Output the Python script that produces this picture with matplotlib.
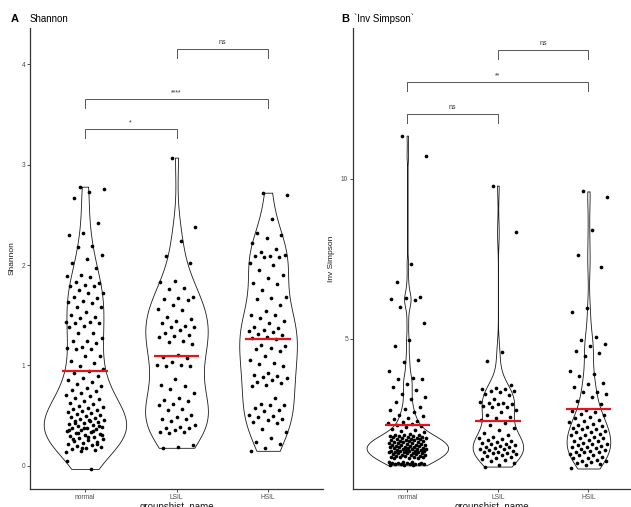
import numpy as np
import matplotlib
matplotlib.use("Agg")
import matplotlib.pyplot as plt

plt.rcParams['font.family'] = ['Liberation Sans', 'DejaVu Sans']

groups = ['normal', 'LSIL', 'HSIL']

# ---------------- Shannon ----------------
shannon_normal = [
    2.78, 2.76, 2.73, 2.67, 2.42, 2.32, 2.30, 2.19, 2.18, 2.10, 2.06, 2.02, 1.97, 1.90, 1.89,
    1.88, 1.83, 1.82, 1.80, 1.79, 1.79, 1.75, 1.72, 1.72, 1.68, 1.67, 1.64, 1.63, 1.62, 1.58,
    1.58, 1.53, 1.50, 1.48, 1.47, 1.43, 1.43, 1.42, 1.42, 1.39, 1.38, 1.32, 1.32, 1.27, 1.24,
    1.24, 1.22, 1.18, 1.17, 1.16, 1.16, 1.09, 1.09, 1.04, 1.02, 0.99, 0.96,
    0.94, 0.92, 0.90, 0.88, 0.86, 0.84, 0.82, 0.80,
    0.78, 0.76, 0.75, 0.73, 0.71, 0.70, 0.68, 0.67, 0.65, 0.63, 0.62, 0.60,
    0.59, 0.58, 0.57, 0.56, 0.55, 0.54, 0.53, 0.52, 0.51, 0.50,
    0.49, 0.48, 0.47, 0.46, 0.46, 0.45, 0.44, 0.43, 0.42, 0.41,
    0.40, 0.39, 0.38, 0.38, 0.37, 0.36, 0.35, 0.34, 0.33, 0.32,
    0.31, 0.30, 0.29, 0.28, 0.27, 0.26, 0.25, 0.24, 0.23, 0.22,
    0.21, 0.20, 0.19, 0.18, 0.17, 0.16, 0.15, 0.14,
    0.45, 0.43, 0.40, 0.38, 0.36, 0.35, 0.33, 0.31, 0.29, 0.27, 0.22, 0.18,
    0.05, -0.03,
]
shannon_lsil = [
    3.07, 2.38, 2.24, 2.09, 2.02, 1.84, 1.83, 1.77, 1.76, 1.68, 1.67, 1.66, 1.65, 1.60,
    1.56, 1.55, 1.48, 1.46, 1.44, 1.42, 1.39, 1.38, 1.38, 1.35, 1.32, 1.30, 1.29, 1.28,
    1.24, 1.23, 1.21, 1.10,
    1.08, 1.07, 1.03, 1.00, 1.00, 0.99, 0.99, 0.87, 0.81, 0.80, 0.77, 0.73, 0.68, 0.66, 0.65,
    0.62, 0.61, 0.57, 0.56, 0.51, 0.49, 0.47, 0.47, 0.45, 0.41, 0.39, 0.38, 0.38, 0.36, 0.34,
    0.34, 0.33, 0.21, 0.19, 0.18,
]
shannon_hsil = [
    2.72, 2.70, 2.46, 2.32, 2.30, 2.27, 2.22, 2.16, 2.13, 2.10, 2.09, 2.09, 2.08, 2.08, 2.02,
    2.00, 1.95, 1.90, 1.87, 1.82, 1.81, 1.75, 1.68, 1.67, 1.66, 1.60, 1.54, 1.50, 1.50, 1.47,
    1.44, 1.42, 1.38, 1.37, 1.35, 1.34, 1.33, 1.31, 1.30, 1.28, 1.27, 1.26,
    1.20, 1.19, 1.17, 1.16, 1.14, 1.09, 1.05, 1.02, 1.01, 0.99, 0.92, 0.91, 0.90, 0.89, 0.88,
    0.86, 0.84, 0.83, 0.81, 0.80, 0.68, 0.62, 0.61, 0.61, 0.58, 0.56, 0.55, 0.51, 0.50, 0.49,
    0.47, 0.46, 0.44, 0.43, 0.37, 0.34, 0.28, 0.24, 0.22, 0.18, 0.15,
]

# ---------------- Inverse Simpson ----------------
invsimpson_normal = [
    11.34, 10.72, 7.33, 6.76, 6.30, 6.28, 6.25, 6.20, 5.98, 5.49, 4.97, 4.77, 4.34, 4.28, 4.00,
    3.77, 3.75, 3.73, 3.58, 3.49, 3.41, 3.29, 3.17, 3.12, 3.03, 2.86, 2.81, 2.79, 2.71,
    2.63, 2.58, 2.52, 2.48, 2.44, 2.40, 2.36, 2.33, 2.30, 2.27, 2.24,
    2.19, 2.15, 2.11, 2.08, 2.04, 2.01,
    1.99, 1.98, 1.97, 1.96, 1.95, 1.94, 1.93, 1.92, 1.91, 1.90, 1.89, 1.88, 1.87, 1.86,
    1.85, 1.84, 1.83, 1.82, 1.81, 1.80, 1.79, 1.78, 1.77, 1.76, 1.75, 1.74, 1.72, 1.71,
    1.69, 1.68, 1.68, 1.67, 1.66, 1.65, 1.64, 1.63, 1.62, 1.62, 1.61, 1.60, 1.59, 1.58,
    1.57, 1.56, 1.56, 1.55, 1.54, 1.53, 1.52, 1.51, 1.50, 1.50, 1.50, 1.49, 1.48, 1.47,
    1.46, 1.45, 1.44, 1.44, 1.43, 1.42, 1.41,
    1.39, 1.38, 1.37, 1.36, 1.35, 1.34, 1.33, 1.32, 1.31, 1.30, 1.30, 1.29, 1.28, 1.27,
    1.15, 1.14, 1.14, 1.13, 1.12, 1.12, 1.11, 1.10,
    1.10, 1.09, 1.09, 1.08, 1.08, 1.07, 1.06, 1.05,
]
invsimpson_lsil = [
    9.78, 8.32, 4.60, 4.29, 3.57, 3.45, 3.43, 3.43, 3.38, 3.38, 3.34, 3.28, 3.23, 3.13, 3.04,
    2.99, 2.99, 2.97, 2.96, 2.91, 2.88, 2.88, 2.77, 2.70, 2.62, 2.55,
    2.52, 2.45, 2.38, 2.30, 2.22, 2.14, 2.06,
    1.98, 1.94, 1.91, 1.88, 1.85, 1.82, 1.79, 1.76, 1.73, 1.71, 1.68, 1.66, 1.63, 1.61,
    1.59, 1.57, 1.55, 1.52, 1.50, 1.48, 1.46, 1.44, 1.42, 1.40, 1.37, 1.35, 1.32, 1.29,
    1.26, 1.22, 1.18, 1.13, 1.07, 1.01,
]
invsimpson_hsil = [
    9.60, 9.42, 8.39, 7.61, 7.25, 5.95, 5.82, 5.06, 4.97, 4.83, 4.78, 4.63, 4.57, 4.45,
    4.00, 3.90, 3.84, 3.63, 3.58, 3.48, 3.33, 3.33, 3.29, 3.17, 3.06, 2.95, 2.77,
    2.74, 2.71, 2.65, 2.62, 2.56, 2.53, 2.47, 2.44,
    2.39, 2.34, 2.32, 2.27, 2.26, 2.21, 2.18, 2.17, 2.12, 2.09, 2.08, 2.03, 2.00, 1.99,
    1.94, 1.91, 1.90, 1.85, 1.82, 1.81, 1.76, 1.73, 1.72, 1.67, 1.64, 1.63, 1.62, 1.58,
    1.55, 1.54, 1.49, 1.48, 1.46, 1.45, 1.40, 1.37, 1.36, 1.31, 1.28, 1.27, 1.22, 1.19,
    1.18, 1.14, 1.12, 1.10, 1.05, 0.95,
]

shannon = [shannon_normal, shannon_lsil, shannon_hsil]
invsimpson = [invsimpson_normal, invsimpson_lsil, invsimpson_hsil]

# comparisons: (group a, group b, label)
shannon_tests = [('normal', 'LSIL', '*'), ('normal', 'HSIL', '****'), ('LSIL', 'HSIL', 'ns')]
invsimpson_tests = [('normal', 'LSIL', 'ns'), ('normal', 'HSIL', '**'), ('LSIL', 'HSIL', 'ns')]


def nrd0(x):
    x = np.asarray(x, float)
    hi = np.std(x, ddof=1)
    q75, q25 = np.percentile(x, [75, 25])
    lo = min(hi, (q75 - q25) / 1.34)
    return 0.9 * lo * len(x) ** -0.2


def density(x, grid):
    x = np.asarray(x, float)
    bw = nrd0(x)
    z = (grid[:, None] - x[None, :]) / bw
    return np.exp(-0.5 * z ** 2).sum(1) / (len(x) * bw * np.sqrt(2 * np.pi))


def panel(ax, data, tests, ylim, yticks, bracket_y, tip, txt_pad, ylabel):
    dens = []
    for vals in data:
        v = np.asarray(vals, float)
        grid = np.linspace(v.min(), v.max(), 512)
        dens.append((grid, density(v, grid)))
    dmax = max(d.max() for _, d in dens)
    for i, (vals, (grid, d)) in enumerate(zip(data, dens)):
        pos = i + 1
        hw = 0.45 * d / dmax
        ax.fill_betweenx(grid, pos - hw, pos + hw, facecolor='white',
                         edgecolor='#1a1a1a', lw=0.6, zorder=1)
        v = np.asarray(vals, float)
        n = len(v)
        jit = (((np.arange(n) * 0.6180339887 + 0.37) % 1.0) - 0.5) * 0.42
        ax.scatter(pos + jit, v, s=7, c='black', linewidths=0, zorder=3)
        mean = np.mean(v)
        ax.hlines(mean, pos - 0.25, pos + 0.25, color='#e8141c', lw=1.6, zorder=4)
    for (a, b, lab), yb in zip(tests, bracket_y):
        x1 = groups.index(a) + 1
        x2 = groups.index(b) + 1
        ax.plot([x1, x1, x2, x2], [yb - tip, yb, yb, yb - tip], color='#555555',
                lw=0.7, zorder=2, solid_joinstyle='miter')
        ax.text((x1 + x2) / 2, yb + txt_pad, lab, ha='center', va='bottom',
                fontsize=5, color='#333333')
    ax.set_ylim(*ylim)
    ax.set_yticks(yticks)
    ax.set_xticks([1, 2, 3])
    ax.set_xticklabels(groups)
    for s in ['top', 'right']:
        ax.spines[s].set_visible(False)
    for s in ['left', 'bottom']:
        ax.spines[s].set_color('#333333')
        ax.spines[s].set_linewidth(0.9)
    ax.tick_params(labelsize=4.8, labelcolor='#4d4d4d', color='#333333', length=2, width=0.6, pad=1.5)
    ax.set_ylabel(ylabel, fontsize=6, labelpad=4, color='#1a1a1a')
    ax.set_xlabel('groupshist_name', fontsize=7, labelpad=0.5, color='#1a1a1a')
    ax.set_facecolor('white')


fig = plt.figure(figsize=(6.31, 5.07), dpi=100)
W, H = 631, 507

axA = fig.add_axes([30 / W, 1 - 489 / H, (323 - 30) / W, (489 - 28) / H])
axA.set_xlim(0.4, 3.6)
panel(axA, shannon, shannon_tests, (-0.23, 4.36), [0, 1, 2, 3, 4],
      [3.35, 3.65, 4.15], 0.085, 0.03, 'Shannon')

axB = fig.add_axes([353 / W, 1 - 489 / H, (631 - 353) / W, (489 - 28) / H])
axB.set_xlim(0.4, 3.47)
panel(axB, invsimpson, invsimpson_tests, (0.31, 14.7), [5, 10],
      [12.0, 13.0, 14.0], 0.27, 0.1, 'Inv Simpson')

fig.text(15 / W, 1 - 19 / H, 'A', fontsize=8, fontweight='bold', ha='center', va='center')
fig.text(30 / W, 1 - 19 / H, 'Shannon', fontsize=7, ha='left', va='center')
fig.text(345 / W, 1 - 19 / H, 'B', fontsize=8, fontweight='bold', ha='center', va='center')
fig.text(354 / W, 1 - 19 / H, '`Inv Simpson`', fontsize=7, ha='left', va='center')

fig.savefig('out.png', dpi=100, facecolor='white')
